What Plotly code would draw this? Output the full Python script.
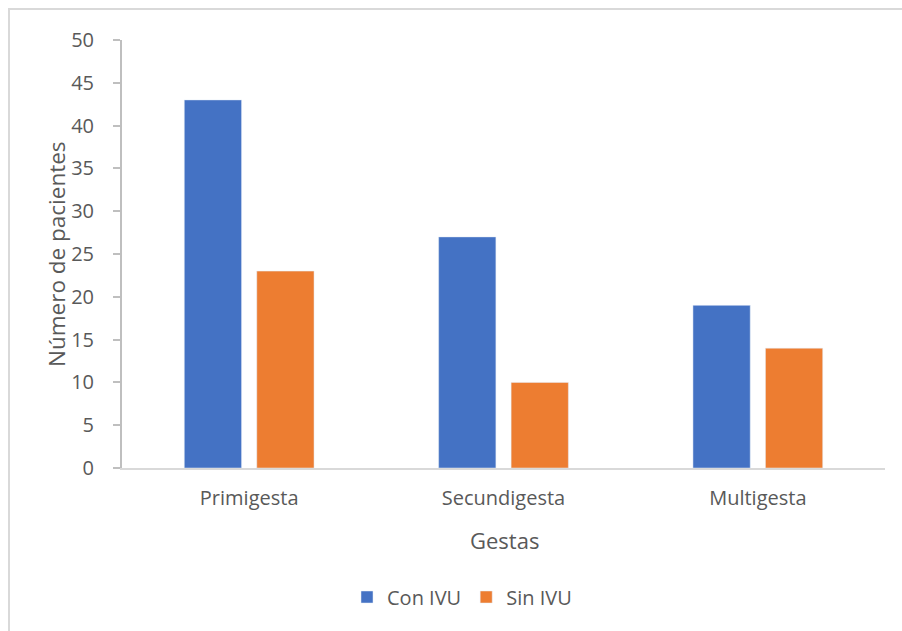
import plotly.graph_objects as go

categorias = ["Primigesta", "Secundigesta", "Multigesta"]
con_ivu = [43, 27, 19]
sin_ivu = [23, 10, 14]
y_ticks = [0, 5, 10, 15, 20, 25, 30, 35, 40, 45, 50]

FONT = "Open Sans, Noto Sans, sans-serif"
TXT = "#595959"

fig = go.Figure()
fig.add_trace(go.Bar(name="Con IVU", x=categorias, y=con_ivu, marker_color="#4472C4"))
fig.add_trace(go.Bar(name="Sin IVU", x=categorias, y=sin_ivu, marker_color="#ED7D31"))

W, H = 902, 631
L, R, T, B = 122, 17, 40, 163

fig.update_layout(
    width=W, height=H,
    margin=dict(l=L, r=R, t=T, b=B),
    paper_bgcolor="white", plot_bgcolor="white",
    barmode="group", bargap=0.43, bargroupgap=0.21,
    font=dict(family=FONT, color=TXT, size=20),
    showlegend=True,
    legend=dict(
        orientation="h", x=(462 - L) / (W - L - R), xanchor="center",
        y=-(597 - (H - B)) / (H - T - B), yanchor="middle",
        font=dict(size=20, color=TXT), itemwidth=30, traceorder="normal",
    ),
)

fig.update_xaxes(
    showline=True, linecolor="#D9D9D9", linewidth=2,
    showgrid=False, ticks="", ticklabelstandoff=11,
    tickfont=dict(size=20, color=TXT),
)
fig.update_yaxes(
    range=[0, 50], tickvals=y_ticks,
    showline=True, linecolor="#BFBFBF", linewidth=2,
    showgrid=False, zeroline=False,
    ticks="outside", ticklen=7, tickcolor="#BFBFBF", tickwidth=2,
    ticklabelstandoff=15, tickfont=dict(size=20, color=TXT),
)

# Axis titles
fig.add_annotation(text="Gestas", xref="paper", yref="paper",
                   x=(504 - L) / (W - L - R), y=-(540 - (H - B)) / (H - T - B),
                   xanchor="center", yanchor="middle", showarrow=False,
                   font=dict(size=22, color=TXT))
fig.add_annotation(text="Número de pacientes", xref="paper", yref="paper",
                   x=-(L - 56) / (W - L - R), y=(H - B - 254) / (H - T - B),
                   xanchor="center", yanchor="middle", textangle=-90, showarrow=False,
                   font=dict(size=22.5, color=TXT))

# Chart frame
fig.add_shape(type="rect", xref="paper", yref="paper",
              x0=-(L - 9) / (W - L - R), x1=(W + 20 - L) / (W - L - R),
              y0=-(H + 20 - (H - B)) / (H - T - B), y1=(H - B - 9) / (H - T - B),
              line=dict(color="#D9D9D9", width=2), fillcolor="rgba(0,0,0,0)", layer="below")

fig.write_html("out.html")
